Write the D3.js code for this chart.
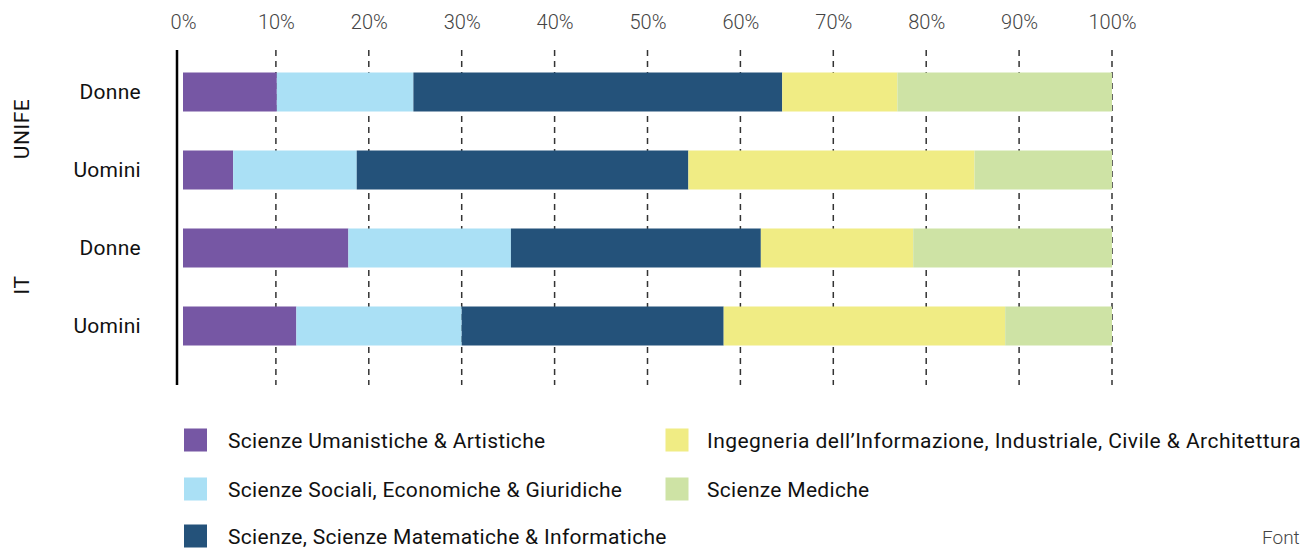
<!DOCTYPE html>
<html>
<head>
<meta charset="utf-8">
<script src="https://cdn.jsdelivr.net/npm/d3@7"></script>
<style>
  html, body { margin: 0; padding: 0; background: #fff; overflow: hidden; }
  svg { display: block; font-family: Roboto, "Noto Sans", sans-serif; }
</style>
</head>
<body>
<svg id="chart" width="1306" height="548"></svg>
<script>
// ---- data ----
const groups = ["UNIFE", "UNIFE", "IT", "IT"];
const rowLabels = ["Donne", "Uomini", "Donne", "Uomini"];
const categories = [
  "Scienze Umanistiche & Artistiche",
  "Scienze Sociali, Economiche & Giuridiche",
  "Scienze, Scienze Matematiche & Informatiche",
  "Ingegneria dell\u2019Informazione, Industriale, Civile & Architettura",
  "Scienze Mediche"
];
const umanistiche = [10.1, 5.4, 17.8, 12.2];
const sociali     = [14.7, 13.3, 17.5, 17.8];
const scienze     = [39.7, 35.7, 26.9, 28.2];
const ingegneria  = [12.4, 30.8, 16.4, 30.3];
const mediche     = [23.1, 14.8, 21.4, 11.5];
const tickValues  = [0, 10, 20, 30, 40, 50, 60, 70, 80, 90, 100];
const colors = ["#7657a4", "#aae0f5", "#24527a", "#f0ec84", "#cee3a5"];

const series = [umanistiche, sociali, scienze, ingegneria, mediche];
const table = rowLabels.map((r, i) => {
  const o = { id: i, group: groups[i], label: r };
  categories.forEach((c, k) => { o[c] = series[k][i]; });
  return o;
});

const svg = d3.select("#chart");

const x = d3.scaleLinear().domain([0, 100]).range([183, 1112]);
const y = d3.scaleBand().domain(table.map(d => d.id)).range([53, 365])
  .paddingInner(0.5).paddingOuter(0.25);
const color = d3.scaleOrdinal().domain(categories).range(colors);

const plotTop = 50, plotBottom = 385;

// gridlines
svg.append("g").selectAll("line")
  .data(tickValues.filter(v => v > 0))
  .join("line")
  .attr("x1", d => x(d)).attr("x2", d => x(d))
  .attr("y1", plotTop).attr("y2", plotBottom)
  .attr("stroke", "#333").attr("stroke-width", 1.5)
  .attr("stroke-dasharray", "6,5");

// top axis
const axis = d3.axisTop(x).tickValues(tickValues).tickFormat(d => d + "%")
  .tickSize(0).tickPadding(21);
const ag = svg.append("g").attr("transform", `translate(0,${plotTop})`).call(axis);
ag.select(".domain").remove();
ag.selectAll("text").attr("font-family", "Roboto").attr("font-weight", 300)
  .attr("font-size", 20).attr("fill", "#444");

// stacked bars
const stack = d3.stack().keys(categories);
const stacked = stack(table);
svg.append("g").selectAll("g")
  .data(stacked).join("g")
  .attr("fill", d => color(d.key))
  .selectAll("rect")
  .data(d => d).join("rect")
  .attr("x", d => x(d[0]))
  .attr("width", d => x(d[1]) - x(d[0]))
  .attr("y", d => y(d.data.id))
  .attr("height", y.bandwidth());

// vertical axis line
svg.append("line").attr("x1", 177).attr("x2", 177)
  .attr("y1", plotTop).attr("y2", plotBottom)
  .attr("stroke", "#000").attr("stroke-width", 2.5);

// row labels
svg.append("g").selectAll("text")
  .data(table).join("text")
  .attr("x", 141)
  .attr("y", d => y(d.id) + y.bandwidth() / 2 - 1)
  .attr("dy", "0.36em")
  .attr("text-anchor", "end")
  .attr("font-size", 21).attr("font-weight", 400).attr("fill", "#111")
  .attr("letter-spacing", 0.3)
  .text(d => d.label);

// group labels
const groupNames = Array.from(new Set(groups));
svg.append("g").selectAll("text")
  .data(groupNames).join("text")
  .attr("transform", g => {
    const ids = table.filter(d => d.group === g).map(d => d.id);
    const cy = (y(ids[0]) + y(ids[ids.length - 1]) + y.bandwidth()) / 2;
    return `translate(21,${cy - 2}) rotate(-90)`;
  })
  .attr("dy", "0.36em")
  .attr("text-anchor", "middle")
  .attr("font-size", 21).attr("font-weight", 400).attr("fill", "#111")
  .attr("letter-spacing", 0.5)
  .text(g => g);

// legend
const legendCols = [184, 665.5];
const legendRows = [440, 489, 536];
const lg = svg.append("g").selectAll("g")
  .data(categories).join("g")
  .attr("transform", (c, i) => {
    const col = i < 3 ? 0 : 1;
    const row = i < 3 ? i : i - 3;
    return `translate(${legendCols[col]},${legendRows[row]})`;
  });
lg.append("rect").attr("x", 0).attr("y", -11.5).attr("width", 23).attr("height", 23)
  .attr("fill", c => color(c));
lg.append("text").attr("x", (c, i) => i < 3 ? 44 : 41.5).attr("dy", "0.36em")
  .attr("font-size", 21).attr("font-weight", 400).attr("fill", "#111")
  .attr("letter-spacing", (c, i) => i === 3 ? 0.45 : 0.3)
  .text(c => c);

// source (only its beginning is visible in the reference)
svg.append("text").attr("x", 1262).attr("y", 544)
  .attr("font-size", 19).attr("font-weight", 300).attr("fill", "#444")
  .text("Font");
</script>
</body>
</html>
